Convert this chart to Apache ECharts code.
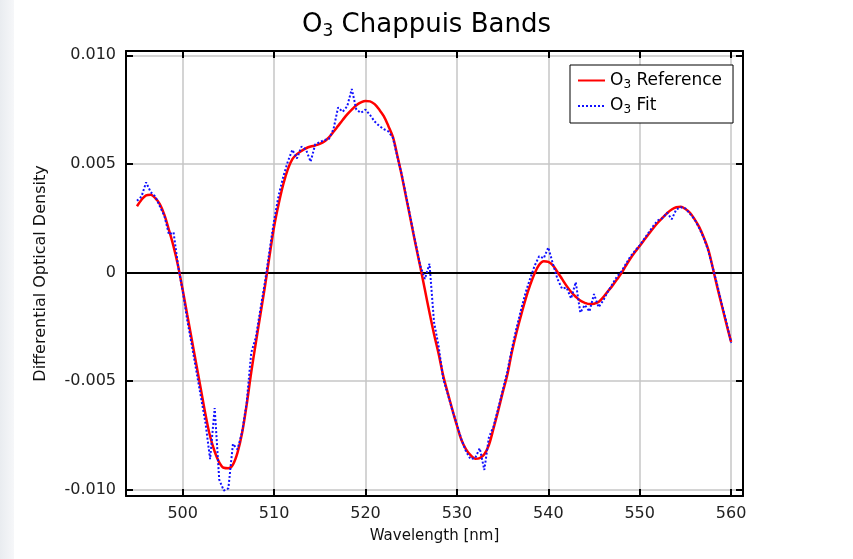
<!DOCTYPE html>
<html>
<head>
<meta charset="utf-8">
<script src="https://cdn.jsdelivr.net/npm/echarts@6/dist/echarts.min.js"></script>
<style>
  html, body { margin: 0; padding: 0; background: #fff; }
  #strip { position: absolute; left: 0; top: 0; width: 14px; height: 559px; background: linear-gradient(to right, #e9ecf0, #f6f7f9); }
  #chart { position: absolute; left: 0; top: 0; width: 853px; height: 559px; }
</style>
</head>
<body>
<div id="strip"></div>
<div id="chart"></div>
<script>
// Wavelength samples [nm]
const wavelengths = [
  495.0,495.5,496.0,496.5,497.0,497.5,498.0,498.5,499.0,499.5,
  500.0,500.5,501.0,501.5,502.0,502.5,503.0,503.5,504.0,504.5,
  505.0,505.5,506.0,506.5,507.0,507.5,508.0,508.5,509.0,509.5,
  510.0,510.5,511.0,511.5,512.0,512.5,513.0,513.5,514.0,514.5,
  515.0,515.5,516.0,516.5,517.0,517.5,518.0,518.5,519.0,519.5,
  520.0,520.5,521.0,521.5,522.0,522.5,523.0,523.5,524.0,524.5,
  525.0,525.5,526.0,526.5,527.0,527.5,528.0,528.5,529.0,529.5,
  530.0,530.5,531.0,531.5,532.0,532.5,533.0,533.5,534.0,534.5,
  535.0,535.5,536.0,536.5,537.0,537.5,538.0,538.5,539.0,539.5,
  540.0,540.5,541.0,541.5,542.0,542.5,543.0,543.5,544.0,544.5,
  545.0,545.5,546.0,546.5,547.0,547.5,548.0,548.5,549.0,549.5,
  550.0,550.5,551.0,551.5,552.0,552.5,553.0,553.5,554.0,554.5,
  555.0,555.5,556.0,556.5,557.0,557.5,558.0,558.5,559.0,559.5,
  560.0
];

// O3 reference differential optical density
const o3Reference = [
  0.00305,0.00335,0.00355,0.00358,0.00342,0.00315,0.00265,0.00195,0.00120,0.00030,
  -0.00080,-0.00195,-0.00310,-0.00425,-0.00540,-0.00655,-0.00755,-0.00825,-0.00875,-0.00900,
  -0.00902,-0.00885,-0.00830,-0.00740,-0.00610,-0.00460,-0.00325,-0.00195,-0.00065,0.00075,
  0.00210,0.00315,0.00405,0.00475,0.00522,0.00545,0.00560,0.00572,0.00580,0.00585,
  0.00592,0.00603,0.00622,0.00648,0.00675,0.00702,0.00728,0.00750,0.00770,0.00783,
  0.00790,0.00788,0.00775,0.00750,0.00720,0.00675,0.00624,0.00535,0.00440,0.00335,
  0.00230,0.00125,0.00025,-0.00080,-0.00185,-0.00285,-0.00375,-0.00475,-0.00555,-0.00632,
  -0.00705,-0.00772,-0.00815,-0.00842,-0.00858,-0.00855,-0.00838,-0.00795,-0.00720,-0.00640,
  -0.00555,-0.00475,-0.00370,-0.00280,-0.00200,-0.00125,-0.00060,-0.00005,0.00035,0.00052,
  0.00048,0.00032,0.00002,-0.00030,-0.00062,-0.00090,-0.00112,-0.00130,-0.00140,-0.00146,
  -0.00144,-0.00136,-0.00115,-0.00088,-0.00062,-0.00033,-0.00003,0.00032,0.00065,0.00095,
  0.00122,0.00150,0.00178,0.00205,0.00230,0.00252,0.00273,0.00290,0.00300,0.00302,
  0.00292,0.00275,0.00245,0.00210,0.00162,0.00105,0.00020,-0.00070,-0.00155,-0.00240,
  -0.00320
];

// O3 fit differential optical density
const o3Fit = [
  0.00330,0.00350,0.00415,0.00370,0.00350,0.00305,0.00260,0.00175,0.00185,0.00030,
  -0.00085,-0.00220,-0.00335,-0.00455,-0.00575,-0.00695,-0.00860,-0.00625,-0.00955,-0.01005,
  -0.00995,-0.00790,-0.00815,-0.00735,-0.00600,-0.00370,-0.00300,-0.00170,-0.00045,0.00100,
  0.00240,0.00355,0.00440,0.00510,0.00565,0.00525,0.00580,0.00565,0.00510,0.00590,
  0.00600,0.00610,0.00615,0.00660,0.00760,0.00740,0.00765,0.00845,0.00750,0.00735,
  0.00750,0.00725,0.00695,0.00675,0.00660,0.00650,0.00620,0.00530,0.00445,0.00340,
  0.00235,0.00130,0.00030,-0.00030,0.00040,-0.00230,-0.00340,-0.00490,-0.00560,-0.00635,
  -0.00700,-0.00770,-0.00825,-0.00860,-0.00855,-0.00810,-0.00910,-0.00760,-0.00710,-0.00630,
  -0.00545,-0.00460,-0.00355,-0.00260,-0.00175,-0.00095,-0.00030,0.00030,0.00075,0.00065,
  0.00115,0.00040,-0.00030,-0.00075,-0.00070,-0.00120,-0.00045,-0.00185,-0.00150,-0.00180,
  -0.00100,-0.00160,-0.00130,-0.00090,-0.00055,-0.00020,0.00005,0.00040,0.00075,0.00100,
  0.00125,0.00155,0.00185,0.00215,0.00240,0.00250,0.00275,0.00245,0.00290,0.00300,
  0.00295,0.00270,0.00245,0.00205,0.00160,0.00100,0.00020,-0.00060,-0.00150,-0.00230,
  -0.00325
];

const seriesNames = ['O3 Reference', 'O3 Fit'];
const legendLabels = ['O{sub|3} Reference', 'O{sub|3} Fit'];

const FONT = 'DejaVu Sans';
const chart = echarts.init(document.getElementById('chart'), null, { renderer: 'canvas' });

const xCommon = {
  type: 'value', min: 493.8, max: 561.3, splitNumber: 7, minInterval: 10, maxInterval: 10
};
const yCommon = {
  type: 'value', min: -0.0103, max: 0.0102, splitNumber: 4, minInterval: 0.005, maxInterval: 0.005
};
const frameLine = { show: true, onZero: false, lineStyle: { color: '#000', width: 2 } };
const tick = { show: true, inside: true, length: 7, lineStyle: { color: '#000', width: 2 } };

chart.setOption({
  animation: false,
  title: {
    text: 'O{sub|3} Chappuis Bands',
    left: 'center', top: 6,
    textStyle: {
      fontFamily: FONT, fontSize: 26, fontWeight: 'normal', color: '#000',
      rich: { sub: { fontFamily: FONT, fontSize: 17, color: '#000', padding: [12, 0, 0, 0] } }
    }
  },
  grid: { left: 126, top: 51, right: 110, bottom: 63, containLabel: false },
  legend: {
    orient: 'vertical', left: 570, top: 65,
    backgroundColor: '#fff', borderColor: '#000', borderWidth: 1, borderRadius: 0,
    padding: [7, 11, 7, 7], itemGap: 7, itemWidth: 27, itemHeight: 14,
    data: seriesNames,
    itemStyle: { color: 'transparent', borderColor: 'transparent', borderWidth: 0, opacity: 0 },
    formatter: function (name) { return legendLabels[seriesNames.indexOf(name)]; },
    textStyle: {
      fontFamily: FONT, fontSize: 17, color: '#000',
      rich: { sub: { fontFamily: FONT, fontSize: 12, color: '#000', padding: [8, 0, 0, 0] } }
    }
  },
  xAxis: [
    Object.assign({}, xCommon, {
      position: 'bottom',
      name: 'Wavelength [nm]', nameLocation: 'middle', nameGap: 33,
      nameTextStyle: { fontFamily: FONT, fontSize: 15, color: '#111' },
      axisLine: frameLine, axisTick: tick,
      axisLabel: { showMinLabel: false, showMaxLabel: false, margin: 10, fontFamily: FONT, fontSize: 16, color: '#222' },
      splitLine: { show: true, lineStyle: { color: '#c6c6c6', width: 1.5 } }
    }),
    Object.assign({}, xCommon, {
      position: 'top',
      axisLine: frameLine, axisTick: tick,
      axisLabel: { show: false }, splitLine: { show: false }
    })
  ],
  yAxis: [
    Object.assign({}, yCommon, {
      position: 'left',
      name: 'Differential Optical Density', nameLocation: 'middle', nameGap: 77,
      nameTextStyle: { fontFamily: FONT, fontSize: 16, color: '#111' },
      axisLine: frameLine, axisTick: tick,
      axisLabel: {
        showMinLabel: false, showMaxLabel: false, margin: 10, fontFamily: FONT, fontSize: 16, color: '#222',
        formatter: function (v) { return Math.abs(v) < 1e-12 ? '0' : v.toFixed(3); }
      },
      splitLine: { show: true, lineStyle: { color: '#c6c6c6', width: 1.5 } }
    }),
    Object.assign({}, yCommon, {
      position: 'right',
      axisLine: frameLine, axisTick: tick,
      axisLabel: { show: false }, splitLine: { show: false }
    })
  ],
  series: [
    {
      name: seriesNames[0], type: 'line', xAxisIndex: 0, yAxisIndex: 0,
      data: wavelengths.map(function (w, i) { return [w, o3Reference[i]]; }),
      symbol: 'none', showSymbol: false, smooth: 0.35,
      lineStyle: { color: '#ff0000', width: 2.5 },
      itemStyle: { color: '#ff0000' },
      markLine: {
        z: 1, silent: true, symbol: 'none', label: { show: false },
        lineStyle: { color: '#000', width: 2.2, type: 'solid' },
        data: [{ yAxis: 0 }]
      }
    },
    {
      name: seriesNames[1], type: 'line', xAxisIndex: 0, yAxisIndex: 0,
      data: wavelengths.map(function (w, i) { return [w, o3Fit[i]]; }),
      symbol: 'none', showSymbol: false, smooth: false,
      lineStyle: { color: '#1010ff', width: 2, type: [2, 2] },
      itemStyle: { color: '#1010ff' }
    }
  ]
});
</script>
</body>
</html>
